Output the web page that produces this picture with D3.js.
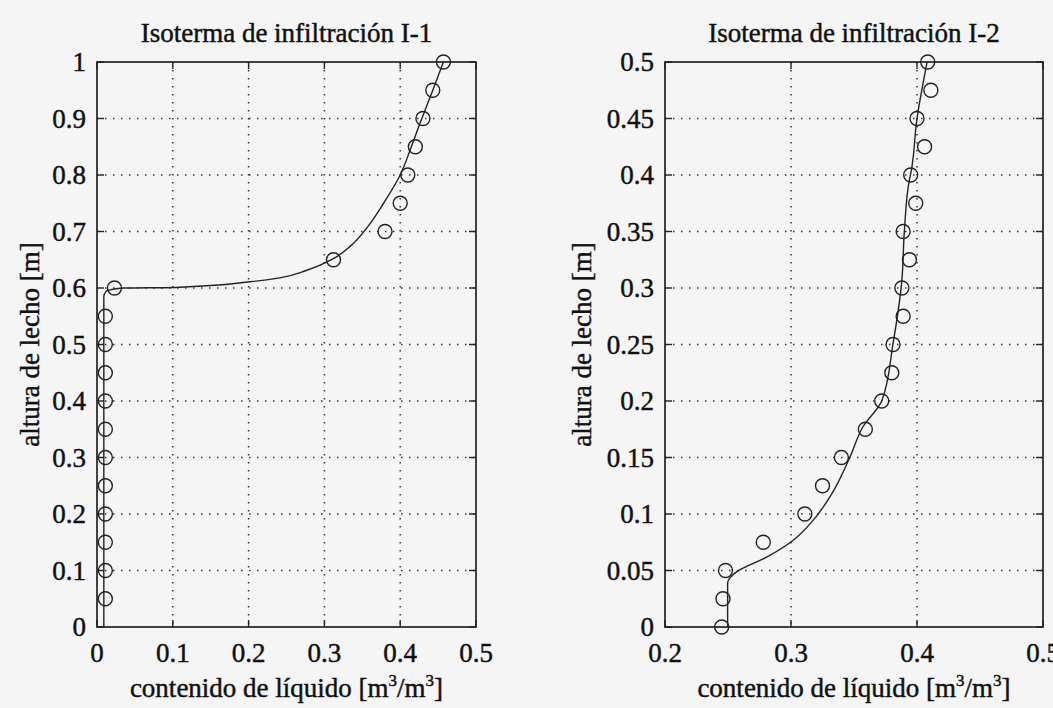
<!DOCTYPE html>
<html>
<head>
<meta charset="utf-8">
<script src="https://cdn.jsdelivr.net/npm/d3@7"></script>
<style>
  body { margin: 0; background: #f5f5f5; }
  svg { display: block; }
  text { font-family: "Liberation Serif", "DejaVu Serif", serif; fill: #111; stroke: #111; stroke-width: 0.45; }
</style>
</head>
<body>
<div id="chart"></div>
<script>
// panel 1: Isoterma I-1
const obs1X = [0.011, 0.011, 0.011, 0.011, 0.011, 0.011, 0.011, 0.011, 0.011, 0.011, 0.011,
               0.023, 0.312, 0.38, 0.40, 0.41, 0.42, 0.43, 0.443, 0.457];
const obs1Y = [0.05, 0.10, 0.15, 0.20, 0.25, 0.30, 0.35, 0.40, 0.45, 0.50, 0.55,
               0.60, 0.65, 0.70, 0.75, 0.80, 0.85, 0.90, 0.95, 1.00];
const fit1X = [0.009, 0.009, 0.012, 0.034, 0.103, 0.202, 0.241, 0.276, 0.312, 0.335, 0.358, 0.378, 0.40, 0.413, 0.426, 0.443, 0.457];
const fit1Y = [0.0, 0.585, 0.594, 0.600, 0.601, 0.611, 0.618, 0.631, 0.652, 0.675, 0.710, 0.75, 0.80, 0.844, 0.891, 0.95, 1.00];

// panel 2: Isoterma I-2
const obs2X = [0.245, 0.246, 0.248, 0.278, 0.311, 0.325, 0.340, 0.359, 0.372, 0.380, 0.381,
               0.389, 0.388, 0.394, 0.389, 0.399, 0.395, 0.406, 0.400, 0.411, 0.4085];
const obs2Y = [0.0, 0.025, 0.05, 0.075, 0.10, 0.125, 0.15, 0.175, 0.20, 0.225, 0.25,
               0.275, 0.30, 0.325, 0.35, 0.375, 0.40, 0.425, 0.45, 0.475, 0.50];
const fit2X = [0.2497, 0.2497, 0.257, 0.281, 0.302, 0.318, 0.334, 0.347, 0.357, 0.372, 0.381, 0.388, 0.390, 0.394, 0.395, 0.400, 0.408];
const fit2Y = [0.0, 0.039, 0.049, 0.062, 0.077, 0.095, 0.121, 0.151, 0.177, 0.20, 0.251, 0.307, 0.351, 0.396, 0.401, 0.45, 0.50];

const ticks1X = [0, 0.1, 0.2, 0.3, 0.4, 0.5];
const ticks1Y = [0, 0.1, 0.2, 0.3, 0.4, 0.5, 0.6, 0.7, 0.8, 0.9, 1];
const ticks2X = [0.2, 0.3, 0.4, 0.5];
const ticks2Y = [0, 0.05, 0.1, 0.15, 0.2, 0.25, 0.3, 0.35, 0.4, 0.45, 0.5];

const titles = ["Isoterma de infiltración I-1", "Isoterma de infiltración I-2"];
const yLabel = "altura de lecho [m]";

const W = 1053, H = 708;
const fs = 27;
const svg = d3.select("#chart").append("svg").attr("width", W).attr("height", H);
svg.append("rect").attr("width", W).attr("height", H).attr("fill", "#f5f5f5");

const panels = [
  { left: 97, right: 476, xDom: [0, 0.5], yDom: [0, 1], xt: ticks1X, yt: ticks1Y,
    ox: obs1X, oy: obs1Y, fx: fit1X, fy: fit1Y, title: titles[0], yLabX: 39 },
  { left: 665, right: 1043, xDom: [0.2, 0.5], yDom: [0, 0.5], xt: ticks2X, yt: ticks2Y,
    ox: obs2X, oy: obs2Y, fx: fit2X, fy: fit2Y, title: titles[1], yLabX: 591 }
];
const plotTop = 62, plotBottom = 627;

panels.forEach(p => {
  const x = d3.scaleLinear().domain(p.xDom).range([p.left, p.right]);
  const y = d3.scaleLinear().domain(p.yDom).range([plotBottom, plotTop]);
  const g = svg.append("g");

  // dotted grid
  g.selectAll(".gx").data(p.xt.slice(1, -1)).enter().append("line")
    .attr("x1", d => x(d)).attr("x2", d => x(d)).attr("y1", plotTop).attr("y2", plotBottom)
    .attr("stroke", "#333").attr("stroke-width", 1.5).attr("stroke-dasharray", "1.5,6.5");
  g.selectAll(".gy").data(p.yt.slice(1, -1)).enter().append("line")
    .attr("y1", d => y(d)).attr("y2", d => y(d)).attr("x1", p.left).attr("x2", p.right)
    .attr("stroke", "#333").attr("stroke-width", 1.5).attr("stroke-dasharray", "1.5,6.5");

  // inner ticks on all sides
  const tl = 7;
  p.xt.forEach(d => {
    g.append("line").attr("x1", x(d)).attr("x2", x(d)).attr("y1", plotBottom).attr("y2", plotBottom - tl).attr("stroke", "#222").attr("stroke-width", 1.4);
    g.append("line").attr("x1", x(d)).attr("x2", x(d)).attr("y1", plotTop).attr("y2", plotTop + tl).attr("stroke", "#222").attr("stroke-width", 1.4);
  });
  p.yt.forEach(d => {
    g.append("line").attr("y1", y(d)).attr("y2", y(d)).attr("x1", p.left).attr("x2", p.left + tl).attr("stroke", "#222").attr("stroke-width", 1.4);
    g.append("line").attr("y1", y(d)).attr("y2", y(d)).attr("x1", p.right).attr("x2", p.right - tl).attr("stroke", "#222").attr("stroke-width", 1.4);
  });

  // box
  g.append("rect").attr("x", p.left).attr("y", plotTop).attr("width", p.right - p.left).attr("height", plotBottom - plotTop)
    .attr("fill", "none").attr("stroke", "#222").attr("stroke-width", 1.7);

  // tick labels
  g.selectAll(".xl").data(p.xt).enter().append("text")
    .attr("x", d => x(d)).attr("y", 662).attr("text-anchor", "middle")
    .attr("font-size", fs).text(d => d3.format("")(d));
  g.selectAll(".yl").data(p.yt).enter().append("text")
    .attr("x", p.left - 11).attr("y", d => y(d) + 9).attr("text-anchor", "end")
    .attr("font-size", fs).text(d => d3.format("")(d));

  // fit line
  const pts = p.fx.map((v, i) => [v, p.fy[i]]);
  g.append("path").datum(pts)
    .attr("d", d3.line().x(d => x(d[0])).y(d => y(d[1])).curve(d3.curveMonotoneY))
    .attr("fill", "none").attr("stroke", "#222").attr("stroke-width", 1.4);

  // observed circles
  g.selectAll(".pt").data(p.ox.map((v, i) => [v, p.oy[i]])).enter().append("circle")
    .attr("cx", d => x(d[0])).attr("cy", d => y(d[1])).attr("r", 7)
    .attr("fill", "none").attr("stroke", "#222").attr("stroke-width", 1.4);

  // title
  g.append("text").attr("x", (p.left + p.right) / 2).attr("y", 42).attr("text-anchor", "middle")
    .attr("font-size", fs).text(p.title);

  // x label with superscripts
  const xl = g.append("text").attr("x", (p.left + p.right) / 2).attr("y", 697).attr("text-anchor", "middle")
    .attr("font-size", fs);
  xl.append("tspan").text("contenido de líquido [m");
  xl.append("tspan").attr("font-size", 17).attr("dy", -11).text("3");
  xl.append("tspan").attr("dy", 11).text("/m");
  xl.append("tspan").attr("font-size", 17).attr("dy", -11).text("3");
  xl.append("tspan").attr("dy", 11).text("]");

  // y label
  g.append("text").attr("transform", `translate(${p.yLabX},${(plotTop + plotBottom) / 2}) rotate(-90)`)
    .attr("text-anchor", "middle")
    .attr("font-size", fs).text(yLabel);
});
</script>
</body>
</html>
